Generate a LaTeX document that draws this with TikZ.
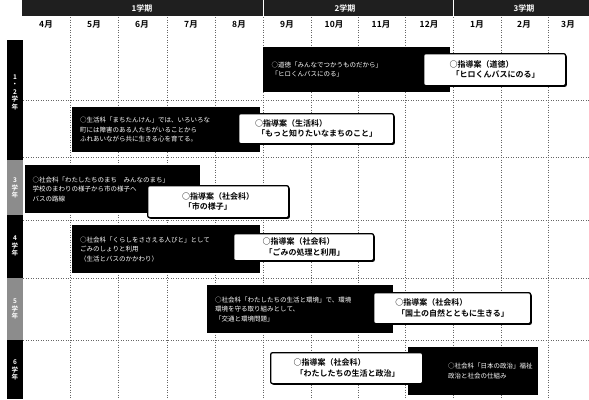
\documentclass[tikz,border=0pt]{standalone}
\usepackage{fontspec}
\setmainfont{Noto Sans CJK JP}[BoldFont={Noto Sans CJK JP Bold}]
\usetikzlibrary{shadows}
\begin{document}
\begin{tikzpicture}[x=1pt,y=-1pt,
  grid/.style={black!60, dotted, line width=0.5pt},
  blk/.style={fill=black, text=white, anchor=north west, inner xsep=7pt, inner ysep=4pt, align=left,
    font=\fontsize{6.5}{9.5}\selectfont},
  wbox/.style={fill=white, draw=black, line width=1.3pt, rounded corners=2pt, anchor=north west,
    inner xsep=8pt, inner ysep=2pt, align=left, font=\bfseries\fontsize{8}{10.5}\selectfont,
    drop shadow={opacity=1, shadow xshift=1.2pt, shadow yshift=-1.2pt, fill=black}},
  mon/.style={font=\bfseries\fontsize{8.5}{9}\selectfont},
  term/.style={text=white, font=\bfseries\fontsize{8}{9}\selectfont},
  grade/.style={text=white, font=\bfseries\fontsize{6.5}{7.5}\selectfont, align=center, inner sep=0pt}]
\useasboundingbox (0,0) rectangle (589,399);
\fill[white] (0,0) rectangle (589,399);
% header
\fill[black!88] (22,0) rectangle (589,16);
\draw[white, line width=0.8pt] (263,0) -- (263,16) (453,0) -- (453,16);
\node[term] (t1) at (142,8) {1学期};
\node[term] (t2) at (345,8) {2学期};
\node[term] (t3) at (524,8) {3学期};
% months
\foreach \x/\m/\n in {46/4月/m4, 94/5月/m5, 142/6月/m6, 191/7月/m7, 239/8月/m8, 287/9月/m9,
  334/10月/m10, 381/11月/m11, 429/12月/m12, 477/1月/m1, 524/2月/m2, 568/3月/m3}
  \node[mon] (\n) at (\x,24) {\m};
% grid
\foreach \x in {70,118,167,215,263,311,358,405,453,501,548}
  \draw[grid] (\x,17) -- (\x,399);
\foreach \y in {100,157,220,278,340}
  \draw[grid] (23,\y) -- (589,\y);
% left bar
\fill[black] (7,40) rectangle (23,160);
\fill[black!45] (7,160) rectangle (23,215);
\fill[black] (7,215) rectangle (23,278);
\fill[black!45] (7,278) rectangle (23,340);
\fill[black] (7,340) rectangle (23,399);
\node[grade] (g12) at (15,92) {1\\・\\2\\学\\年};
\node[grade] (g3) at (15,188) {3\\学\\年};
\node[grade] (g4) at (15,246) {4\\学\\年};
\node[grade] (g5) at (15,309) {5\\学\\年};
\node[grade] (g6) at (15,370) {6\\学\\年};
% row 1
\node[blk, minimum width=187pt, minimum height=45pt, text width=170pt] (b1) at (263,47)
  {○道徳「みんなでつかうものだから」\\「ヒロくんバスにのる」\\[9pt]};
\node[wbox, minimum width=142pt, minimum height=32pt] (w1) at (423,53)
  {○指導案（道徳）\\\ 「ヒロくんバスにのる」};
% row 2
\node[blk, minimum width=188pt, minimum height=45pt, text width=172pt] (b2) at (72,107)
  {○生活科「まちたんけん」では、いろいろな\\町には障害のある人たちがいることから\\ふれあいながら共に生きる心を育てる。};
\node[wbox, minimum width=155pt, minimum height=30pt] (w2) at (238,113)
  {○指導案（生活科）\\\ 「もっと知りたいなまちのこと」};
% row 3
\node[blk, minimum width=175pt, minimum height=48pt, text width=160pt] (b3) at (25,165)
  {○社会科「わたしたちのまち　みんなのまち」\\学校のまわりの様子から市の様子へ\\バスの路線};
\node[wbox, minimum width=141pt, minimum height=32pt] (w3) at (147,185)
  {○指導案（社会科）\\\ 「市の様子」};
% row 4
\node[blk, minimum width=188pt, minimum height=48pt, text width=172pt] (b4) at (72,225)
  {○社会科「くらしをささえる人びと」として\\ごみのしょりと利用\\（生活とバスのかかわり）};
\node[wbox, minimum width=140pt, minimum height=27pt] (w4) at (233,233)
  {○指導案（社会科）\\\ 「ごみの処理と利用」};
% row 5
\node[blk, minimum width=186pt, minimum height=48pt, text width=170pt] (b5) at (207,285)
  {○社会科「わたしたちの生活と環境」で、環境\\環境を守る取り組みとして、\\「交通と環境問題」};
\node[wbox, minimum width=157pt, minimum height=31pt] (w5) at (373,292)
  {○指導案（社会科）\\\ 「国土の自然とともに生きる」};
% row 6
\node[blk, minimum width=130pt, minimum height=48pt, text width=100pt, inner xsep=0pt] (b6) at (408,347)
  {\hspace*{25pt}○社会科「日本の政治」福祉\\\hspace*{25pt}政治と社会の仕組み};
\node[wbox, minimum width=152pt, minimum height=31pt] (w6) at (270,352)
  {○指導案（社会科）\\\ 「わたしたちの生活と政治」};
\end{tikzpicture}
\end{document}
